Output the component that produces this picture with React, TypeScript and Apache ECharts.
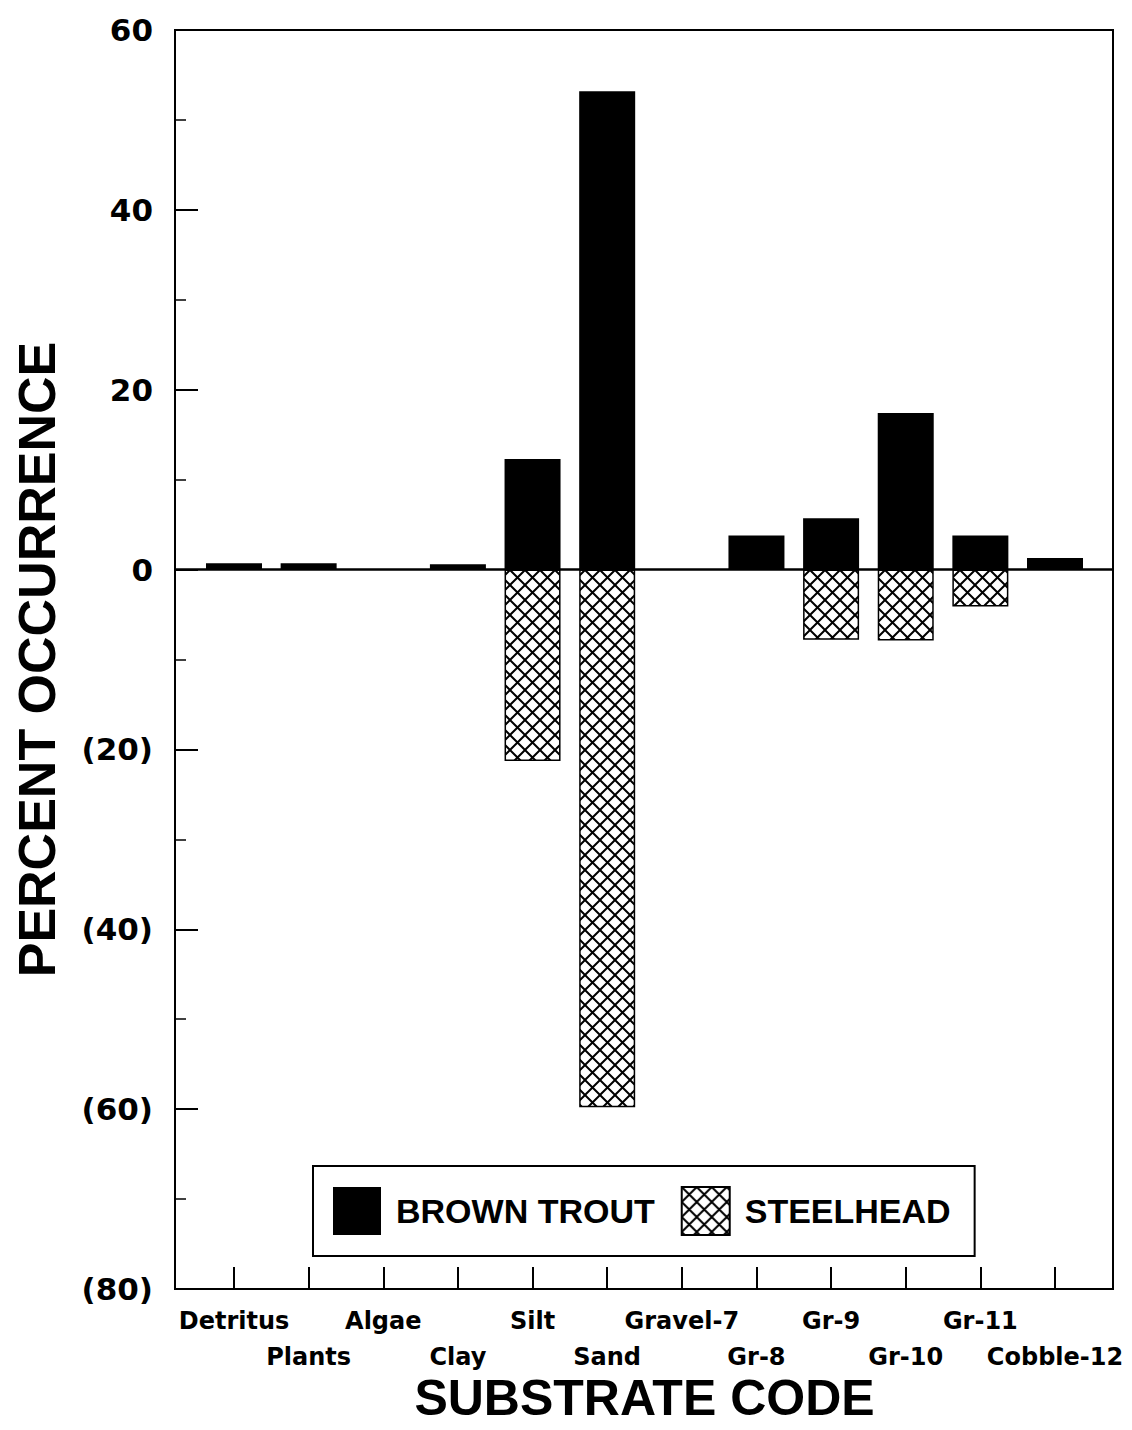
import React, { useEffect, useRef } from "react";
import * as echarts from "echarts";

const categories = [
  "Detritus", "Plants", "Algae", "Clay", "Silt", "Sand",
  "Gravel-7", "Gr-8", "Gr-9", "Gr-10", "Gr-11", "Cobble-12",
];
const brownTrout = [0.7, 0.7, 0, 0.6, 12.3, 53.2, 0, 3.8, 5.7, 17.4, 3.8, 1.3];
const steelhead = [null, null, null, null, -21.3, -59.8, null, null, -7.8, -7.9, -4.1, null];
const seriesNames = ["BROWN TROUT", "STEELHEAD"];
const yMin = -80;
const yMax = 60;
const yStep = 20;

function makeHatch(): HTMLCanvasElement {
  const s = 15;
  const c = document.createElement("canvas");
  c.width = s;
  c.height = s;
  const ctx = c.getContext("2d")!;
  ctx.fillStyle = "#ffffff";
  ctx.fillRect(0, 0, s, s);
  ctx.strokeStyle = "#000000";
  ctx.lineWidth = 2;
  ctx.beginPath();
  for (const k of [-s, 0, s]) {
    ctx.moveTo(k - 2, -2);
    ctx.lineTo(k + s + 2, s + 2);
    ctx.moveTo(k + s + 2, -2);
    ctx.lineTo(k - 2, s + 2);
  }
  ctx.stroke();
  return c;
}

export default function App() {
  const ref = useRef<HTMLDivElement>(null);
  useEffect(() => {
    document.body.style.margin = "0";
    if (!ref.current) return;
    const chart = echarts.init(ref.current, undefined, { renderer: "svg" });
    const hatch = makeHatch();
    const plotLeft = 175;
    const plotRight = 1113;
    const plotTop = 30;
    const plotBottom = 1289;
    const catW = 74.64;
    const gridLeft = 234 - catW / 2;
    const gridRight = 1055 + catW / 2;
    chart.setOption({
      animation: false,
      backgroundColor: "#ffffff",
      grid: {
        left: gridLeft,
        right: 1132 - gridRight,
        top: plotTop,
        bottom: 1430 - plotBottom,
        containLabel: false,
        outerBoundsMode: "none",
      },
      legend: {
        left: 313,
        top: 1166,
        orient: "horizontal",
        data: seriesNames,
        icon: "rect",
        itemWidth: 48,
        itemHeight: 48,
        itemGap: 26,
        padding: [20, 24, 20, 20],
        borderColor: "#000",
        borderWidth: 2,
        backgroundColor: "#fff",
        textStyle: {
          fontFamily: "Liberation Sans",
          fontWeight: "bold",
          fontSize: 34,
          color: "#000",
          padding: [0, 0, 0, 10],
        },
      },
      xAxis: {
        type: "category",
        data: categories,
        boundaryGap: true,
        name: "SUBSTRATE CODE",
        nameLocation: "middle",
        nameGap: 89,
        nameMoveOverlap: false,
        nameTextStyle: {
          fontFamily: "Liberation Sans",
          fontWeight: "bold",
          fontSize: 50,
          lineHeight: 40,
          color: "#000",
        },
        axisLine: { show: false, onZero: false },
        axisTick: {
          show: true,
          inside: true,
          alignWithLabel: true,
          length: 22,
          lineStyle: { color: "#000", width: 2 },
        },
        axisLabel: {
          interval: 0,
          margin: 14,
          fontFamily: "DejaVu Sans",
          fontWeight: "bold",
          fontSize: 24,
          lineHeight: 36,
          color: "#000",
          formatter: (v: string, i: number) => (i % 2 === 1 ? "\n" + v : v),
        },
        splitLine: { show: false },
      },
      yAxis: {
        type: "value",
        min: yMin,
        max: yMax,
        interval: yStep,
        offset: gridLeft - plotLeft,
        name: "PERCENT OCCURRENCE",
        nameLocation: "middle",
        nameGap: 112,
        nameRotate: 90,
        nameMoveOverlap: false,
        nameTextStyle: {
          fontFamily: "Liberation Sans",
          fontWeight: "bold",
          fontSize: 52,
          color: "#000",
        },
        axisLine: { show: false },
        axisTick: {
          show: true,
          inside: true,
          length: 23,
          lineStyle: { color: "#000", width: 2 },
        },
        minorTick: {
          show: true,
          splitNumber: 2,
          length: 11,
          lineStyle: { color: "#000", width: 1.5 },
        },
        axisLabel: {
          margin: 22,
          fontFamily: "DejaVu Sans",
          fontWeight: "bold",
          fontSize: 31,
          color: "#000",
          formatter: (v: number) => (v < 0 ? `(${-v})` : `${v}`),
        },
        splitLine: { show: false },
      },
      series: [
        {
          name: seriesNames[0],
          type: "bar",
          data: brownTrout,
          barWidth: 56,
          barGap: "-100%",
          itemStyle: { color: "#000", borderColor: "#000", borderWidth: 0 },
        },
        {
          name: seriesNames[1],
          type: "bar",
          data: steelhead,
          barWidth: 56,
          barGap: "-100%",
          itemStyle: {
            color: { image: hatch, repeat: "repeat" },
            borderColor: "#000",
            borderWidth: 1.5,
          },
        },
      ],
    });
    const y0 = chart.convertToPixel({ yAxisIndex: 0 }, 0) as number;
    chart.setOption({
      graphic: [
        {
          type: "rect",
          shape: {
            x: plotLeft,
            y: plotTop,
            width: plotRight - plotLeft,
            height: plotBottom - plotTop,
          },
          style: { fill: "none", stroke: "#000", lineWidth: 2 },
          z: 10,
          silent: true,
        },
        {
          type: "line",
          shape: { x1: plotLeft, y1: y0, x2: plotRight, y2: y0 },
          style: { stroke: "#000", lineWidth: 2.5 },
          z: 10,
          silent: true,
        },
      ],
    });
    return () => chart.dispose();
  }, []);
  return <div ref={ref} style={{ width: 1132, height: 1430 }} />;
}
